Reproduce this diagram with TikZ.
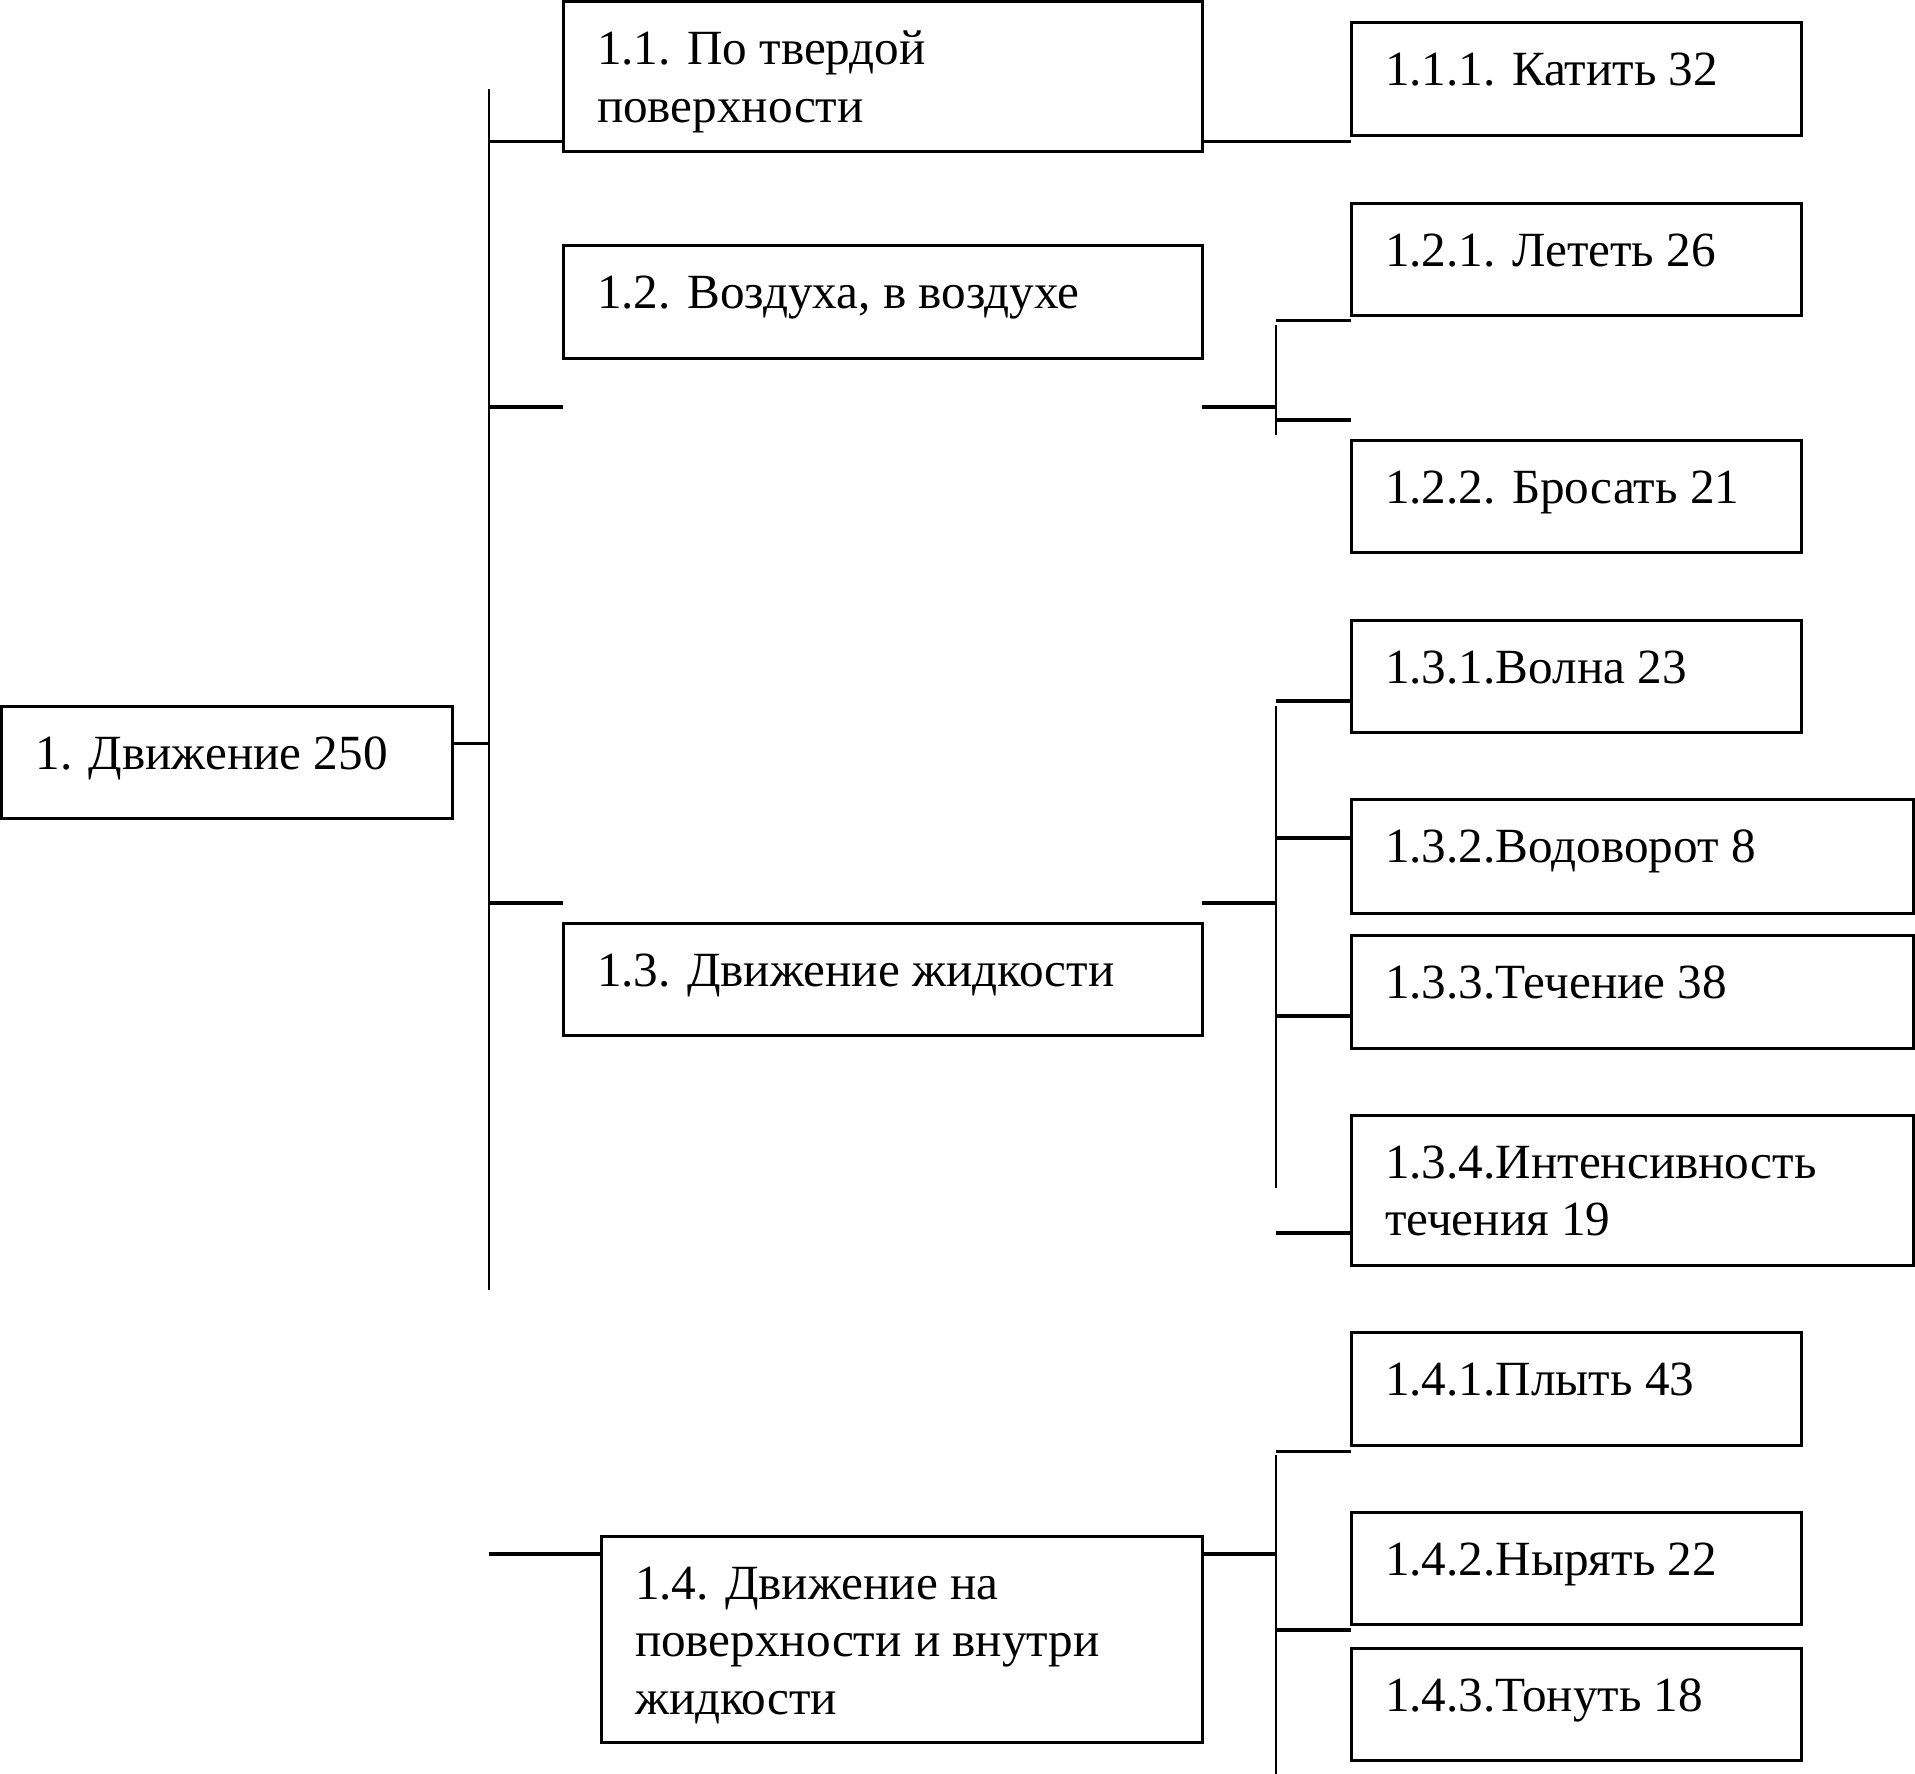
\documentclass[tikz,border=0pt]{standalone}
\usepackage{fontspec}
\setmainfont{Liberation Serif}
\usetikzlibrary{calc}
\tikzset{
  box/.style={draw, line width=3pt, rectangle, inner sep=0pt, outer sep=0pt},
  lbl/.style={inner sep=0pt, outer sep=0pt, anchor=base west, font=\fontsize{49.2}{57.5}\selectfont},
  stub/.style={line width=3.5pt},
  trunk/.style={line width=2pt},
}
\newcommand\mkbox[5]{%
  \node[box, minimum width={(#4)-(#2)}, minimum height={(#5)-(#3)}] (#1) at ({((#2)+(#4))/2},{((#3)+(#5))/2}) {};}
\newcommand\mktext[3]{%
  \node[lbl] (#1) at ($(#2.north west)+(34,63)$) {\parbox[t]{700pt}{\raggedright #3}};}
\begin{document}
\begin{tikzpicture}[x=1pt,y=-1pt]
\fill[white] (0,0) rectangle (1915,1774);
\useasboundingbox (0,0) rectangle (1915,1774);

% boxes
\mkbox{b1}{1.5}{706}{452}{818}
\mkbox{b11}{563}{2}{1202}{151.5}
\mkbox{b12}{563}{245}{1202}{358.6}
\mkbox{b13}{563}{923}{1202}{1035.5}
\mkbox{b14}{601}{1536}{1202}{1742}
\mkbox{b111}{1351}{23}{1801}{136}
\mkbox{b121}{1351}{203}{1801}{315}
\mkbox{b122}{1351}{440}{1801}{552}
\mkbox{b131}{1351}{620}{1801}{732}
\mkbox{b132}{1351}{799}{1913}{913}
\mkbox{b133}{1351}{935.6}{1913}{1048.5}
\mkbox{b134}{1351}{1115}{1913}{1265}
\mkbox{b141}{1351}{1332}{1801}{1445}
\mkbox{b142}{1351}{1512.6}{1801}{1624.6}
\mkbox{b143}{1351}{1648}{1801}{1760}

% texts
\mktext{t1}{b1}{1. Движение 250}
\mktext{t11}{b11}{1.1. По твердой\\поверхности}
\mktext{t12}{b12}{1.2. Воздуха, в воздухе}
\mktext{t13}{b13}{1.3. Движение жидкости}
\mktext{t14}{b14}{1.4. Движение на\\поверхности и внутри\\жидкости}
\mktext{t111}{b111}{1.1.1. Катить 32}
\mktext{t121}{b121}{1.2.1. Лететь 26}
\mktext{t122}{b122}{1.2.2. Бросать 21}
\mktext{t131}{b131}{1.3.1.Волна 23}
\mktext{t132}{b132}{1.3.2.Водоворот 8}
\mktext{t133}{b133}{1.3.3.Течение 38}
\mktext{t134}{b134}{1.3.4.Интенсивность\\течения 19}
\mktext{t141}{b141}{1.4.1.Плыть 43}
\mktext{t142}{b142}{1.4.2.Нырять 22}
\mktext{t143}{b143}{1.4.3.Тонуть 18}

% main trunk
\coordinate (tt) at (488.5,89);
\coordinate (tb) at (488.5,1290);
\draw[trunk] (tt) -- (tb);
\coordinate (j0) at (488.5,743.5);
\coordinate (j1) at (488.5,141.6);
\coordinate (j2) at (488.5,407);
\coordinate (j3) at (488.5,903);
\coordinate (j4) at (488.5,1554);
\draw[stub] (b1.east |- j0) -- (j0);
\draw[stub] (j1) -- (j1 -| b11.west);
\draw[stub] (j2) -- (j2 -| b12.west);
\draw[stub] (j3) -- (j3 -| b13.west);
\draw[stub] (j4) -- (j4 -| b14.west);

% 1.1
\draw[stub] (j1 -| b11.east) -- (j1 -| b111.west);

% 1.2 group
\coordinate (k2) at (1276,407);
\coordinate (v2a) at (1276,325);
\coordinate (v2b) at (1276,435);
\coordinate (s21) at (1276,320.7);
\coordinate (s22) at (1276,420);
\draw[stub] (j2 -| b12.east) -- (k2);
\draw[trunk] (v2a) -- (v2b);
\draw[stub] (s21) -- (s21 -| b121.west);
\draw[stub] (s22) -- (s22 -| b122.west);

% 1.3 group
\coordinate (k3) at (1276,903);
\coordinate (v3a) at (1276,706);
\coordinate (v3b) at (1276,1188);
\coordinate (s31) at (1276,701);
\coordinate (s32) at (1276,838);
\coordinate (s33) at (1276,1016);
\coordinate (s34) at (1276,1233);
\draw[stub] (j3 -| b13.east) -- (k3);
\draw[trunk] (v3a) -- (v3b);
\draw[stub] (s31) -- (s31 -| b131.west);
\draw[stub] (s32) -- (s32 -| b132.west);
\draw[stub] (s33) -- (s33 -| b133.west);
\draw[stub] (s34) -- (s34 -| b134.west);

% 1.4 group
\coordinate (k4) at (1276,1554);
\coordinate (v4a) at (1276,1455);
\coordinate (v4b) at (1276,1774);
\coordinate (s41) at (1276,1451.5);
\coordinate (s42) at (1276,1630);
\draw[stub] (j4 -| b14.east) -- (k4);
\draw[trunk] (v4a) -- (v4b);
\draw[stub] (s41) -- (s41 -| b141.west);
\draw[stub] (s42) -- (s42 -| b142.west);
\end{tikzpicture}
\end{document}
